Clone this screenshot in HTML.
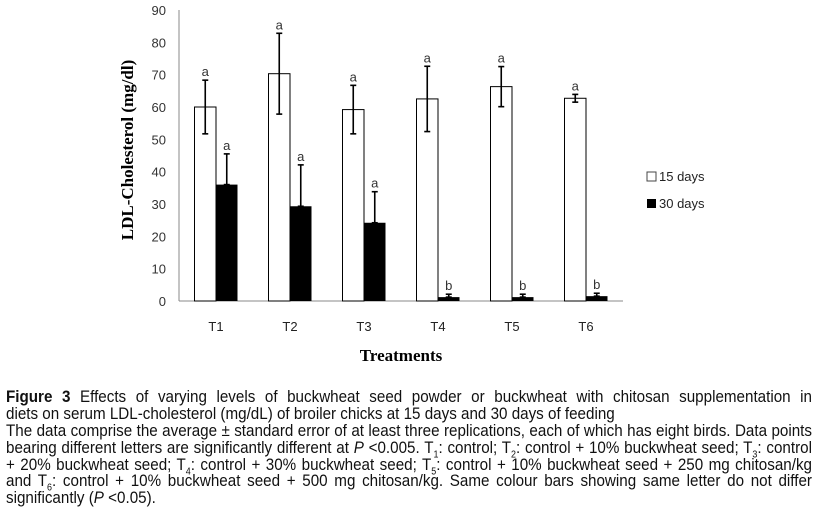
<!DOCTYPE html>
<html><head><meta charset="utf-8"><style>
body{margin:0;background:#fff;width:817px;height:511px;overflow:hidden;position:relative;font-family:"Liberation Sans",sans-serif}
#cap{position:absolute;left:6px;top:389px;width:806px;font-size:17px;line-height:16.9px;color:#111}
.ln{white-space:nowrap;height:16.9px;transform-origin:0 0}
.j{text-align:justify;text-align-last:justify}
sub{font-size:10px;line-height:0}
</style></head><body>
<svg id="chart" width="817" height="380" style="position:absolute;left:0;top:0" xmlns="http://www.w3.org/2000/svg"></svg>
<div id="cap">
<div class="ln j"><b>Figure 3</b> Effects of varying levels of buckwheat seed powder or buckwheat with chitosan supplementation in</div>
<div class="ln">diets on serum LDL-cholesterol (mg/dL) of broiler chicks at 15 days and 30 days of feeding</div>
<div class="ln j">The data comprise the average ± standard error of at least three replications, each of which has eight birds. Data points</div>
<div class="ln j">bearing different letters are significantly different at <i>P</i> &lt;0.005. T<sub>1</sub>: control; T<sub>2</sub>: control + 10% buckwheat seed; T<sub>3</sub>: control</div>
<div class="ln j">+ 20% buckwheat seed; T<sub>4</sub>: control + 30% buckwheat seed; T<sub>5</sub>: control + 10% buckwheat seed + 250 mg chitosan/kg</div>
<div class="ln j">and T<sub>6</sub>: control + 10% buckwheat seed + 500 mg chitosan/kg. Same colour bars showing same letter do not differ</div>
<div class="ln">significantly (<i>P</i> &lt;0.05).</div>
</div>
<script>
const categories=["T1","T2","T3","T4","T5","T6"];
const values15=[60,70.3,59.2,62.5,66.3,62.7];
const err15=[8.3,12.5,7.5,10.1,6.2,1.2];
const values30=[36,29.3,24.2,1.2,1.2,1.5];
const err30=[9.5,12.8,9.6,0.9,0.9,0.9];
const letters15=["a","a","a","a","a","a"];
const letters30=["a","a","a","b","b","b"];
const yTicks=[0,10,20,30,40,50,60,70,80,90];
const svg=document.getElementById('chart');
const NS="http://www.w3.org/2000/svg";
const X0=179,CW=74,Y0=301,YMAX=90,YH=291;
const y=v=>Y0-v/YMAX*YH;
const xc=i=>X0+CW*(i+0.5);
function mk(t,a,txt){const e=document.createElementNS(NS,t);for(const k in a)e.setAttribute(k,a[k]);if(txt!=null)e.textContent=txt;svg.appendChild(e);return e;}
let e;
e=mk('line',{x1:X0,y1:y(90),x2:X0,y2:Y0,stroke:'#888','stroke-width':1});


e=mk('line',{x1:X0,y1:Y0,x2:X0+CW*6,y2:Y0,stroke:'#888','stroke-width':1});


yTicks.forEach(t=>{
 e=mk('text',{x:166,y:y(t)+5,'text-anchor':'end','font-size':13,fill:'#333','font-family':'Liberation Sans'},t);
 
 
});
function errbar(cx,top,bot){
 mk('line',{x1:cx,y1:y(top),x2:cx,y2:y(bot),stroke:'#000','stroke-width':1.6});
 mk('line',{x1:cx-3,y1:y(top),x2:cx+3,y2:y(top),stroke:'#000','stroke-width':1.6});
 mk('line',{x1:cx-3,y1:y(bot),x2:cx+3,y2:y(bot),stroke:'#000','stroke-width':1.6});
}
const BW=21.5;
categories.forEach((c,i)=>{
 const cx=xc(i);
 e=mk('rect',{x:cx-BW,y:y(values15[i]),width:BW,height:Y0-y(values15[i]),fill:'#fff',stroke:'#000','stroke-width':1});
 
 
 e=mk('rect',{x:cx,y:y(values30[i]),width:BW,height:Y0-y(values30[i]),fill:'#000'});
 
 
 errbar(cx-BW/2,values15[i]+err15[i],values15[i]-err15[i]);
 errbar(cx+BW/2,values30[i]+err30[i],Math.max(values30[i]-err30[i],values30[i]));
 e=mk('text',{x:cx-BW/2,y:y(values15[i]+err15[i])-4,'text-anchor':'middle','font-size':13,fill:'#333'},letters15[i]);
 
 
 e=mk('text',{x:cx+BW/2,y:y(values30[i]+err30[i])-4,'text-anchor':'middle','font-size':13,fill:'#333'},letters30[i]);
 
 
 e=mk('text',{x:cx,y:331,'text-anchor':'middle','font-size':13,fill:'#222'},c);
 
 
});
e=mk('text',{x:401,y:361,'text-anchor':'middle','font-size':17,'font-weight':'bold','font-family':'Liberation Serif',fill:'#000'},'Treatments');


e=mk('text',{x:0,y:0,'text-anchor':'middle','font-size':17,'font-weight':'bold','font-family':'Liberation Serif',fill:'#000',transform:'translate(133,150) rotate(-90)'},'LDL-Cholesterol (mg/dl)');


e=mk('rect',{x:647,y:172,width:9,height:9,fill:'#fff',stroke:'#444','stroke-width':1});


e=mk('text',{x:659,y:181,'font-size':13,fill:'#222'},'15 days');


e=mk('rect',{x:647,y:199,width:9,height:9,fill:'#000'});


e=mk('text',{x:659,y:208,'font-size':13,fill:'#222'},'30 days');


// uniform condensed scale for caption lines (mimics narrow font)
const lines=[...document.querySelectorAll('#cap .ln')];
const widths=lines.map(l=>{
 const s=document.createElement('span');
 s.innerHTML=l.innerHTML;l.innerHTML='';l.appendChild(s);
 const w=s.getBoundingClientRect().width;
 l.innerHTML=s.innerHTML;return w;
});
let minSc=1;
lines.forEach((l,i)=>{if(l.classList.contains('j'))minSc=Math.min(minSc,806/widths[i]);});
minSc*=0.995;
lines.forEach(l=>{
 l.style.width=(806/minSc)+'px';
 l.style.transform='scaleX('+minSc+')';
});
</script>
</body></html>
